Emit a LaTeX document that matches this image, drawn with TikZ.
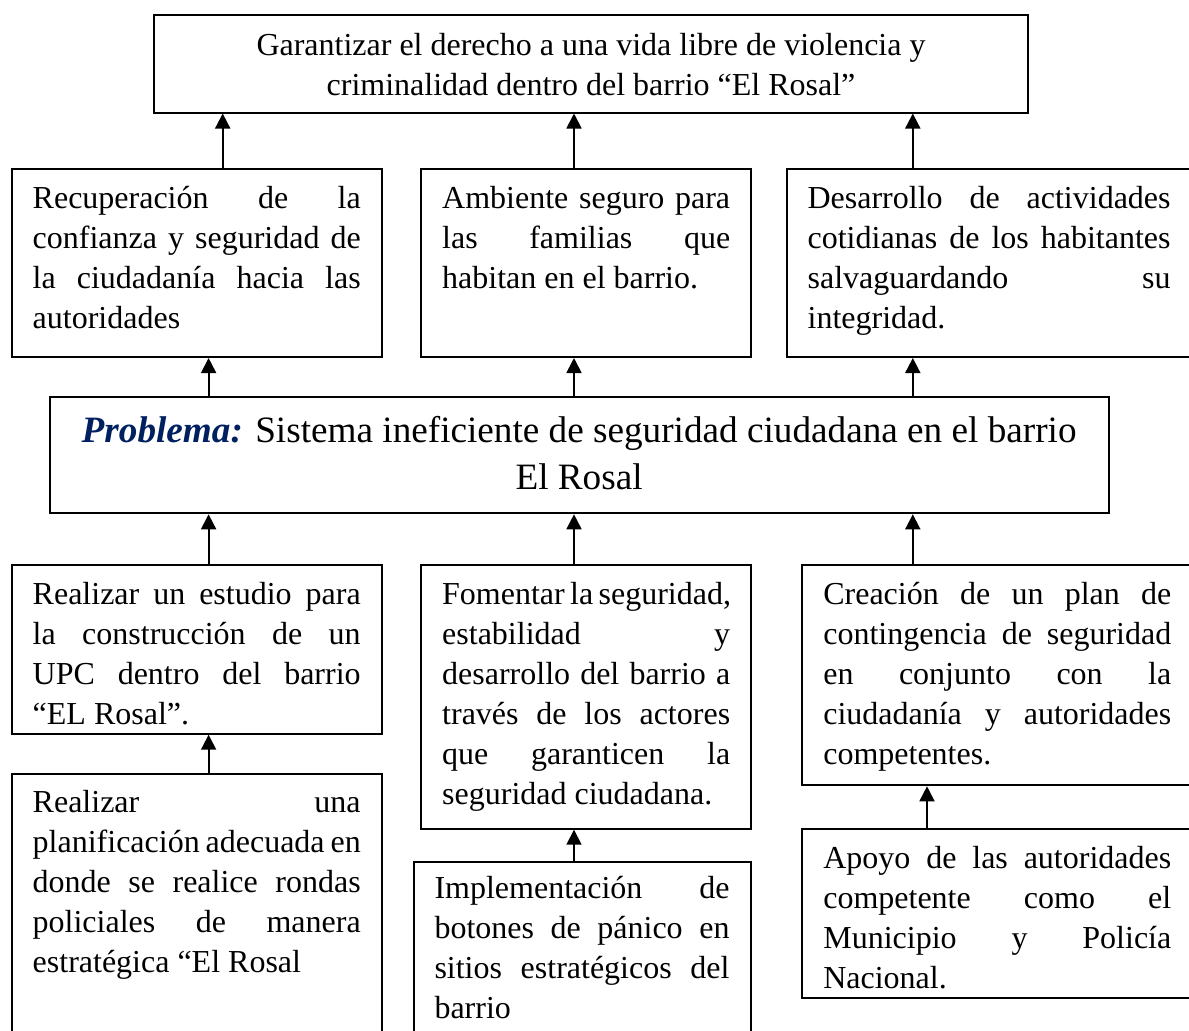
\documentclass[tikz,border=0pt]{standalone}
\usepackage{fontspec}
\setmainfont{Liberation Serif}
\usetikzlibrary{arrows.meta}
\definecolor{navy}{HTML}{002060}
\newcommand{\jl}[1]{\makebox[\linewidth][s]{#1}}
\tikzset{
  box/.style={draw, line width=1pt, anchor=north west, inner xsep=10.5pt, inner ysep=0pt,
    text height=19.5pt, font=\fontsize{16}{20}\selectfont},
  arr/.style={-{Triangle[length=7.5pt,width=7.5pt]}, line width=0.9pt}
}
\begin{document}
\begin{tikzpicture}[x=0.5pt,y=-0.5pt]
	\fill[white] (0,0) rectangle (1189,1030);
	\useasboundingbox (0,0) rectangle (1189,1030);
	\clip (0,0) rectangle (1189,1030);
	\coordinate (colL) at (208.6,0);
	\coordinate (colLt) at (222.7,0);
	\coordinate (colM) at (574,0);
	\coordinate (colR) at (912.8,0);
	\coordinate (colRc) at (927,0);
	\node (goal)[box, text height=20pt, text depth=28.75pt] at (153,14)
		{\parbox[t]{416pt}{\centering Garantizar el derecho a una vida libre de violencia y\\ criminalidad dentro del barrio “El Rosal”}};
	\node (a1)[box, text depth=74.5pt] at (10.7,168)
		{\parbox[t]{164pt}{\jl{Recuperación de la}\\ \jl{confianza y seguridad de}\\ \jl{la ciudadanía hacia las}\\ autoridades}};
	\node (a2)[box, text depth=74.5pt] at (420.2,168)
		{\parbox[t]{144pt}{\jl{Ambiente seguro para}\\ \jl{las familias que}\\ habitan en el barrio.}};
	\node (a3)[box, text depth=74.5pt] at (785.6,168)
		{\parbox[t]{181.5pt}{\jl{Desarrollo de actividades}\\ \jl{cotidianas de los habitantes}\\ \jl{salvaguardando su}\\ integridad.}};
	\node (prob)[box, text height=22.85pt, text depth=35.3pt, font=\fontsize{18.6}{23.35}\selectfont] at (48.6,396)
		{\parbox[t]{508.5pt}{\centering\leavevmode{\color{navy}\bfseries\itshape Problema:} Sistema ineficiente de seguridad ciudadana en el barrio\\ El Rosal}};
	\node (b1)[box, text depth=64.85pt] at (10.7,564)
		{\parbox[t]{164pt}{\jl{Realizar un estudio para}\\ \jl{la construcción de un}\\ \jl{UPC dentro del barrio}\\ “EL Rosal”.}};
	\node (b2)[box, text depth=112.35pt] at (420.2,564)
		{\parbox[t]{144pt}{\jl{Fomentar la seguridad,}\\ \jl{estabilidad y}\\ \jl{desarrollo del barrio a}\\ \jl{través de los actores}\\ \jl{que garanticen la}\\ seguridad ciudadana.}};
	\node (b3)[box, text depth=90.65pt] at (801.3,564)
		{\parbox[t]{174pt}{\jl{Creación de un plan de}\\ \jl{contingencia de seguridad}\\ \jl{en conjunto con la}\\ \jl{ciudadanía y autoridades}\\ competentes.}};
	\node (c1)[box, text depth=114.15pt] at (10.7,772.7)
		{\parbox[t]{164pt}{\jl{Realizar una}\\ \jl{planificación adecuada en}\\ \jl{donde se realice rondas}\\ \jl{policiales de manera}\\ estratégica “El Rosal}};
	\node (c2)[box, text height=18.5pt, text depth=71.15pt] at (412.5,860.7)
		{\parbox[t]{147.5pt}{\jl{Implementación de}\\ \jl{botones de pánico en}\\ \jl{sitios estratégicos del}\\ barrio}};
	\node (c3)[box, text depth=65pt] at (801.3,828.3)
		{\parbox[t]{174pt}{\jl{Apoyo de las autoridades}\\ \jl{competente como el}\\ \jl{Municipio y Policía}\\ Nacional.}};
	\draw[arr] (a1.north -| colLt)--(goal.south -| colLt);
	\draw[arr] (a2.north -| colM)--(goal.south -| colM);
	\draw[arr] (a3.north -| colR)--(goal.south -| colR);
	\draw[arr] (prob.north -| colL)--(a1.south -| colL);
	\draw[arr] (prob.north -| colM)--(a2.south -| colM);
	\draw[arr] (prob.north -| colR)--(a3.south -| colR);
	\draw[arr] (b1.north -| colL)--(prob.south -| colL);
	\draw[arr] (b2.north -| colM)--(prob.south -| colM);
	\draw[arr] (b3.north -| colR)--(prob.south -| colR);
	\draw[arr] (c1.north -| colL)--(b1.south -| colL);
	\draw[arr] (c2.north -| colM)--(b2.south -| colM);
	\draw[arr] (c3.north -| colRc)--(b3.south -| colRc);
\end{tikzpicture}
\end{document}
